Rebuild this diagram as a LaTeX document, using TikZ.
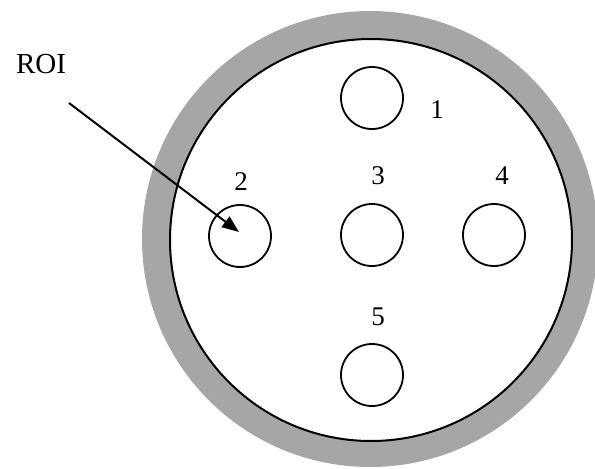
\documentclass[tikz,border=0pt]{standalone}
\usepackage{fontspec}
\setmainfont{Liberation Serif}
\usetikzlibrary{arrows.meta,calc}
\begin{document}
\begin{tikzpicture}[x=1pt,y=-1pt,
  hole/.style={circle,draw,line width=1.8pt,minimum size=62pt,inner sep=0pt},
  lbl/.style={font=\fontsize{27}{27}\selectfont,inner sep=0pt},
  ring/.style={fill={rgb,255:red,166;green,166;blue,166}}]
\useasboundingbox (0,0) rectangle (595,469);
\clip (0,0) rectangle (595,469);
\fill[ring] (370,239) circle (228);
\draw[fill=white,line width=2pt] (371,240) circle (201);
\node[hole] (c1) at (372,98) {};
\node[hole] (c2) at (240,236) {};
\node[hole] (c3) at (372,235) {};
\node[hole] (c4) at (494,235) {};
\node[hole] (c5) at (372,375) {};
\node[lbl] (l1) at (437,110) {1};
\node[lbl] (l2) at (241,182) {2};
\node[lbl] (l3) at (378,176) {3};
\node[lbl] (l4) at (502,176) {4};
\node[lbl] (l5) at (378,317) {5};
\node[lbl,font=\fontsize{29}{29}\selectfont] (roi) at (41,64) {ROI};
\coordinate (a0) at (69,103);
\draw[line width=2pt,-{Triangle[length=17pt,width=13pt]}] (a0) -- ($(c2.center)+(-1,-4)$);
\end{tikzpicture}
\end{document}
